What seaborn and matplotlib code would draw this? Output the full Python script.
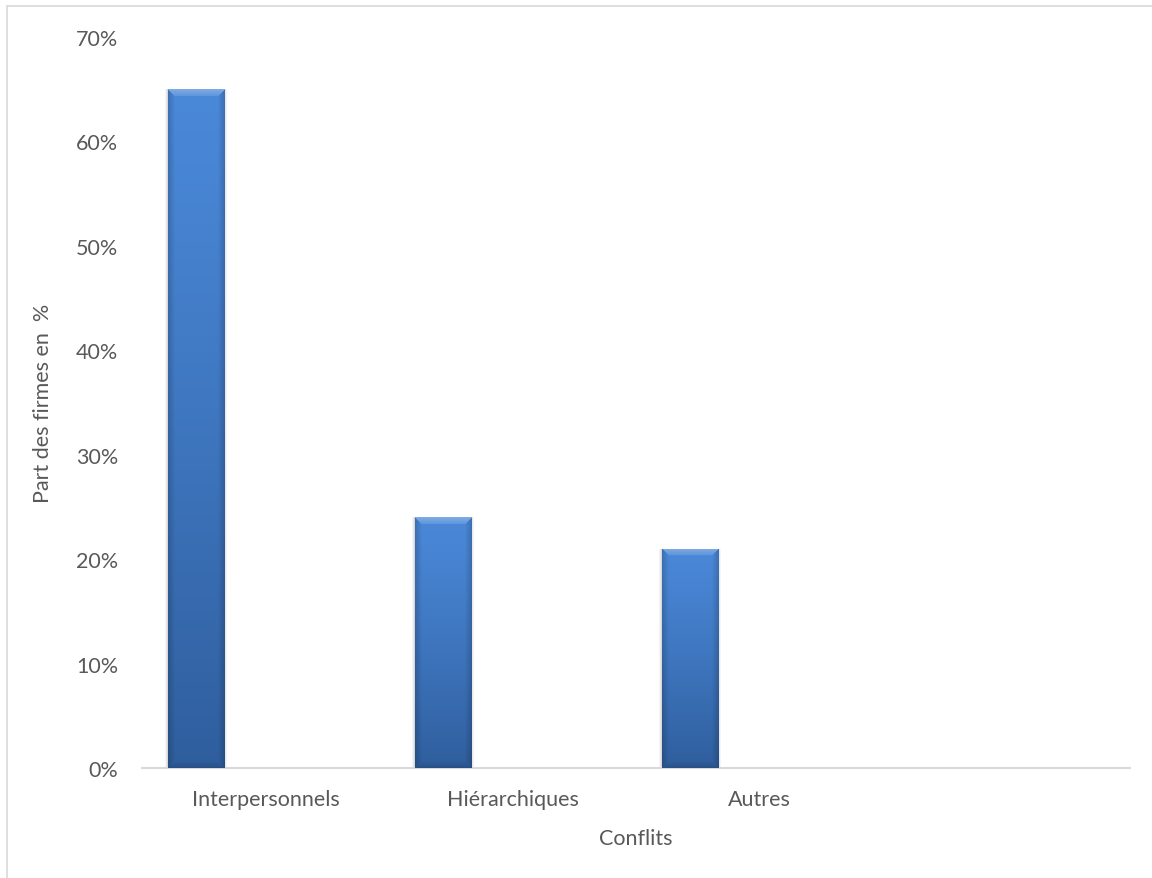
import numpy as np
import pandas as pd
import matplotlib
matplotlib.use("Agg")
import matplotlib.pyplot as plt
import matplotlib.colors as mcolors
from matplotlib.patches import Rectangle
from matplotlib.lines import Line2D
import seaborn as sns

# Data
categories = ["Interpersonnels", "Hiérarchiques", "Autres", ""]
shares = [65, 24, 21, np.nan]
series = ["Série1", "Série2", "Série3"]

sns.set_theme(style="white")
plt.rcParams["font.family"] = ["Lato", "DejaVu Sans"]

df = pd.DataFrame({"Conflits": categories, "Part": shares, "Série": series[0]})

W, H = 1152, 879
fig = plt.figure(figsize=(W / 100, H / 100), dpi=100)
ax = fig.add_axes([142 / W, 1 - 769 / H, (1130 - 142) / W, (769 - 38) / H])

sns.barplot(data=df, x="Conflits", y="Part", hue="Série", hue_order=series,
            order=categories, dodge=True, width=0.843, gap=0.19,
            palette=["#3F7ECF"] * 3, legend=False,
            errorbar=None, ax=ax, linewidth=0, zorder=3)

ax.set_ylim(0, 70)
ax.set_xlim(-0.5, 3.5)
ax.set_yticks(np.arange(0, 71, 10))
ax.set_yticklabels([f"{v}%" for v in range(0, 71, 10)])

txt = "#595959"
fs = 15.5
ax.tick_params(axis="y", length=0, pad=17, labelsize=fs, labelcolor=txt)
ax.tick_params(axis="x", length=0, pad=15, labelsize=fs, labelcolor=txt)
ax.set_xlabel("Conflits", fontsize=fs, color=txt, labelpad=14)
ax.set_ylabel("Part des firmes en  %", fontsize=fs, color=txt, labelpad=17)

for side in ["top", "right", "left"]:
    ax.spines[side].set_visible(False)
ax.spines["bottom"].set_color("#D9D9D9")
ax.spines["bottom"].set_linewidth(1.5)
ax.grid(False)

# Bevelled gradient fill for each bar
px_per_x = (1130 - 142) / 4.0
px_per_y = (769 - 38) / 70.0
face_top = np.array(mcolors.to_rgb("#4A88D8"))
face_bot = np.array(mcolors.to_rgb("#2F5E9D"))
bevel = 7.0
for p in list(ax.patches):
    h = p.get_height()
    if not np.isfinite(h) or h <= 0:
        continue
    x0, w = p.get_x(), p.get_width()
    nx = max(int(round(w * px_per_x)), 2)
    ny = max(int(round(h * px_per_y)), 2)
    xs = np.arange(nx)[None, :] + 0.5
    ys = np.arange(ny)[:, None] + 0.5          # row 0 = top of bar
    t = ys / ny
    base = face_top + (face_bot - face_top) * (t ** 1.2)[..., None]
    img = np.broadcast_to(base, (ny, nx, 3)).copy()
    d_left, d_right = xs, nx - xs
    d_top, d_bot = ys, ny - ys
    dside = np.minimum(d_left, d_right)
    dmin = np.minimum(np.minimum(dside, d_top), d_bot)
    inb = dmin < bevel
    top_zone = inb & (d_top <= dside) & (d_top <= d_bot)
    bot_zone = inb & (d_bot < d_top) & (d_bot <= dside)
    side_zone = inb & ~top_zone & ~bot_zone
    ramp = (1 - dmin / bevel)[..., None] * np.ones((1, 1, 3))
    img[top_zone] = img[top_zone] + (1 - img[top_zone]) * (0.12 + 0.18 * ramp[top_zone])
    img[side_zone] = img[side_zone] * (1 - 0.18 * ramp[side_zone])
    img[bot_zone] = img[bot_zone] * (1 - 0.15 * ramp[bot_zone])
    img = np.clip(img, 0, 1)
    # soft shadow along the sides of the bar
    for k, a in ((3, 0.04), (2, 0.05), (1, 0.07)):
        ax.add_patch(Rectangle((x0 - k / px_per_x, 0), w + 2 * k / px_per_x, h,
                               facecolor="#000000", alpha=a, linewidth=0, zorder=2))
    im = ax.imshow(img, extent=(x0, x0 + w, 0, h), aspect="auto",
                   zorder=4, interpolation="bilinear", origin="upper")
    im.set_clip_path(p)

ax.set_xlim(-0.5, 3.5)
ax.set_ylim(0, 70)

# Light chart frame (left and top edges)
fig.lines.append(Line2D([7 / W, 7 / W], [0, 1 - 7 / H], transform=fig.transFigure,
                        color="#D9D9D9", linewidth=1.2))
fig.lines.append(Line2D([7 / W, 1], [1 - 7 / H, 1 - 7 / H], transform=fig.transFigure,
                        color="#D9D9D9", linewidth=1.2))

fig.savefig("out.png", dpi=100, facecolor="white")
